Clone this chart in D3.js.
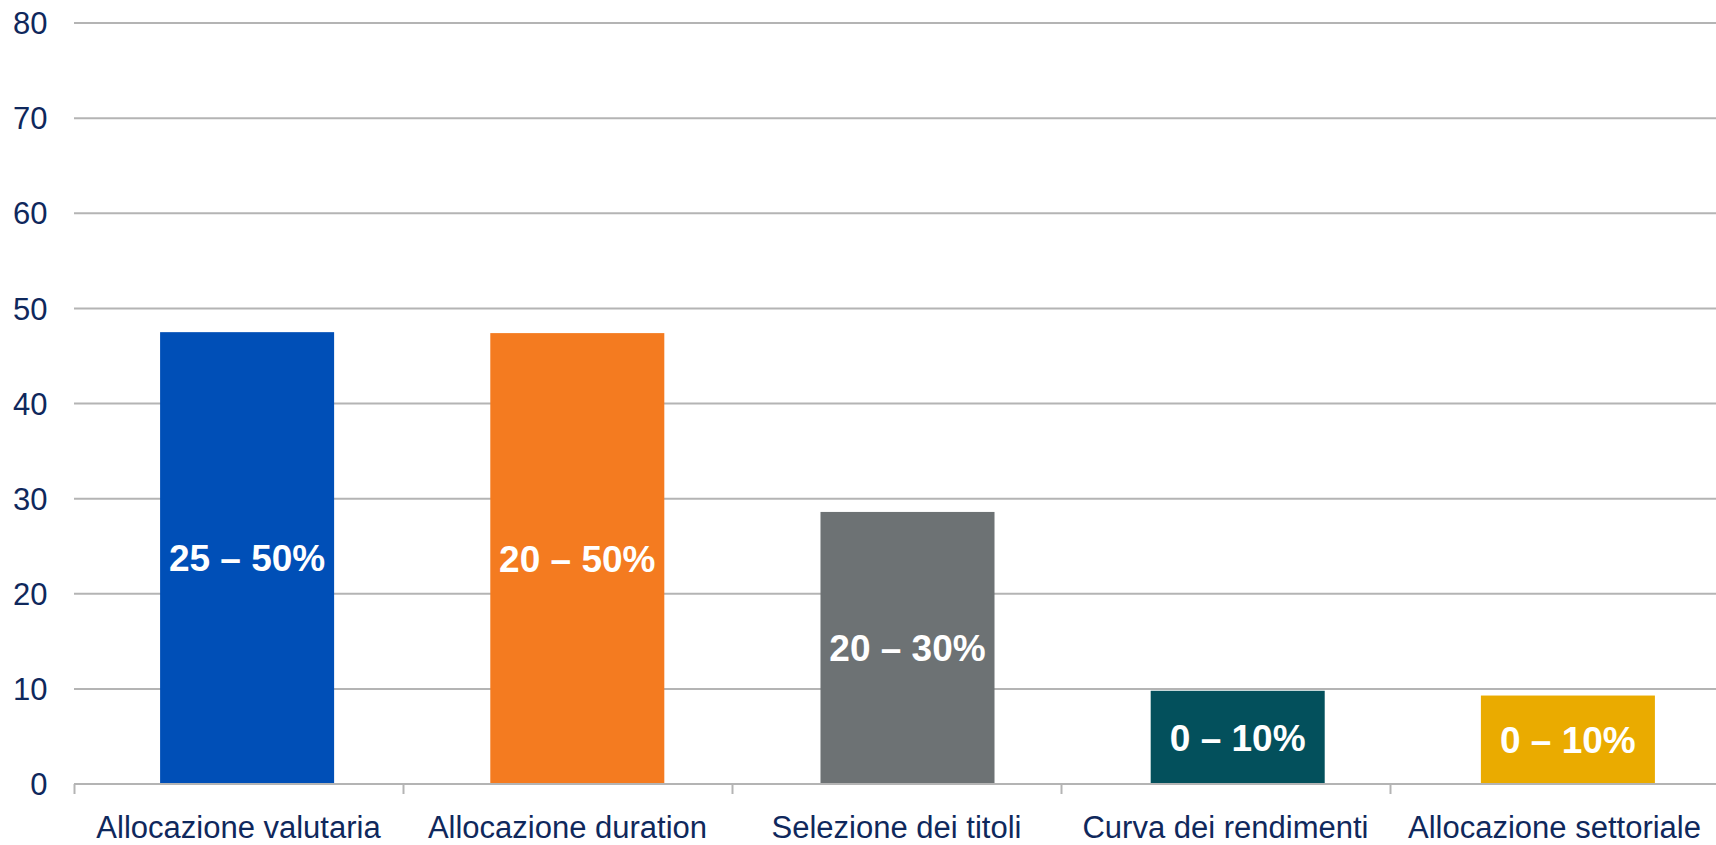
<!DOCTYPE html>
<html>
<head>
<meta charset="utf-8">
<script src="https://cdn.jsdelivr.net/npm/d3@7"></script>
<style>
  html, body { margin: 0; padding: 0; background: #ffffff; }
  svg { display: block; }
  text { font-family: "Liberation Sans", Arial, sans-serif; }
</style>
</head>
<body>
<svg id="chart" width="1716" height="845"></svg>
<script>
const categories = ["Allocazione valutaria", "Allocazione duration", "Selezione dei titoli", "Curva dei rendimenti", "Allocazione settoriale"];
const values = [47.5, 47.4, 28.6, 9.8, 9.3];
const rangeLabels = ["25 – 50%", "20 – 50%", "20 – 30%", "0 – 10%", "0 – 10%"];
const yTicks = [0, 10, 20, 30, 40, 50, 60, 70, 80];
const barColors = ["#004fb7", "#f47b20", "#6d7274", "#03505c", "#eaab00"];

let chart = d3.select("#chart");
let textColor = "#0f285c";
let gridColor = "#b4b4b4";

let yScale = d3.scaleLinear()
            .domain([0, 80])
            .range([784, 23]);

// category slots (ticks + labels)
let xScale = d3.scaleBand()
            .domain(categories)
            .range([74, 1719]);

// bars sit slightly to the right of the slot centres in the original
let xBar = d3.scaleBand()
            .domain(categories)
            .range([82, 1733])
            .paddingInner(0.473)
            .paddingOuter(0.2365);

// gridlines
chart.append("g")
    .selectAll("line")
    .data(yTicks.filter(d => d > 0)).enter()
        .append("line")
            .attr("x1", 74)
            .attr("x2", 1716)
            .attr("y1", d => yScale(d))
            .attr("y2", d => yScale(d))
            .attr("stroke", gridColor)
            .attr("stroke-width", 2);

// y tick labels
chart.append("g")
    .selectAll("text")
    .data(yTicks).enter()
        .append("text")
            .attr("x", 47.5)
            .attr("y", d => yScale(d))
            .attr("dy", "0.36em")
            .style("text-anchor", "end")
            .style("font-size", "31px")
            .attr("fill", textColor)
            .text(d => d);

// bars
chart.append("g")
    .selectAll("rect")
    .data(categories).enter()
        .append("rect")
            .attr("x", d => xBar(d))
            .attr("width", xBar.bandwidth())
            .attr("y", (d, i) => yScale(values[i]))
            .attr("height", (d, i) => yScale(0) - yScale(values[i]))
            .attr("fill", (d, i) => barColors[i]);

// labels inside bars
chart.append("g")
    .selectAll("text")
    .data(categories).enter()
        .append("text")
            .attr("x", d => xBar(d) + xBar.bandwidth() / 2)
            .attr("y", (d, i) => (yScale(values[i]) + yScale(0)) / 2)
            .attr("dy", "0.36em")
            .style("text-anchor", "middle")
            .style("font-size", "37px")
            .style("font-weight", "bold")
            .attr("fill", "#ffffff")
            .text((d, i) => rangeLabels[i]);

// x axis
let xax = chart.append("g");
xax.append("line")
    .attr("x1", 74)
    .attr("x2", 1716)
    .attr("y1", yScale(0))
    .attr("y2", yScale(0))
    .attr("stroke", gridColor)
    .attr("stroke-width", 2);

xax.selectAll(".tick")
    .data(categories).enter()
        .append("line")
            .attr("class", "tick")
            .attr("x1", d => Math.round(xScale(d)) + 0.5)
            .attr("x2", d => Math.round(xScale(d)) + 0.5)
            .attr("y1", yScale(0))
            .attr("y2", yScale(0) + 10)
            .attr("stroke", gridColor)
            .attr("stroke-width", 2);

xax.selectAll(".cat")
    .data(categories).enter()
        .append("text")
            .attr("class", "cat")
            .attr("x", d => xScale(d) + xScale.bandwidth() / 2)
            .attr("y", 838)
            .style("text-anchor", "middle")
            .style("font-size", "31px")
            .attr("fill", textColor)
            .text(d => d);
</script>
</body>
</html>
